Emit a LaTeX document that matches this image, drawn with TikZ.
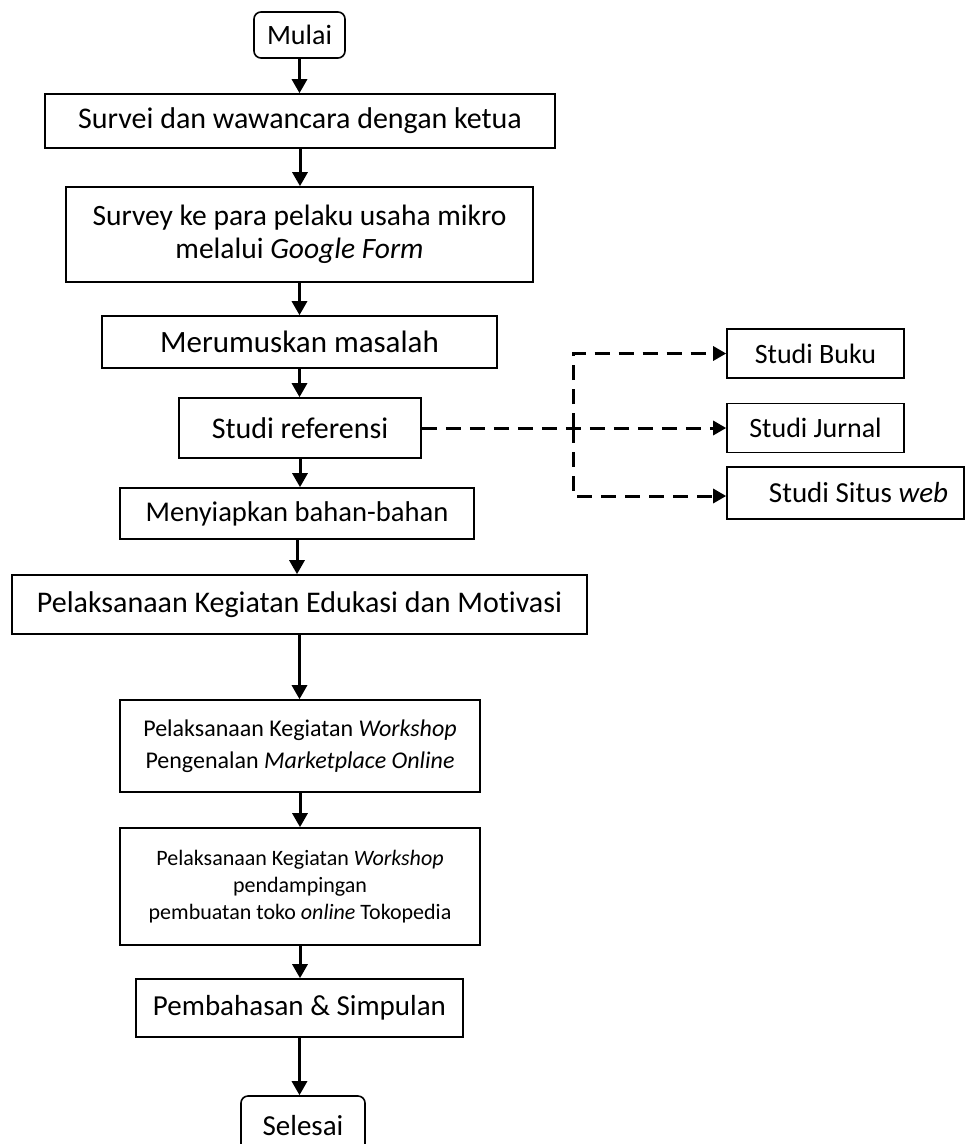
\documentclass[tikz,border=0pt]{standalone}
\usepackage{fontspec}
\setmainfont{Carlito}[Ligatures=NoCommon]
\usetikzlibrary{arrows.meta}
\begin{document}
\begin{tikzpicture}[x=1pt,y=-1pt,
  box/.style={draw, line width=1.6pt, inner sep=0pt, align=center, font=\fontsize{30}{33}\selectfont},
  rbox/.style={box, rounded corners=7pt},
  arr/.style={line width=3pt, -{Triangle[length=14pt,width=15pt]}},
  dsh/.style={line width=3pt, dash pattern=on 15pt off 9pt},
  darr/.style={dsh, -{Triangle[length=13pt,width=14pt]}}]
\useasboundingbox (0,0) rectangle (966,1144);
\node[rbox, minimum width=91pt, minimum height=46pt, font=\fontsize{28}{31}\selectfont] (mulai) at (299.5,35) {Mulai};
\node[box, minimum width=510pt, minimum height=54pt] (s1) at (300,121) {Survei dan wawancara dengan ketua};
\node[box, minimum width=467pt, minimum height=95pt, font=\fontsize{29.5}{33}\selectfont] (s2) at (299.5,234.5) {Survey ke para pelaku usaha mikro\\melalui \textit{Google Form}};
\node[box, minimum width=395pt, minimum height=52pt, font=\fontsize{31}{34}\selectfont] (s3) at (299.5,342) {Merumuskan masalah};
\node[box, minimum width=242pt, minimum height=60pt] (s4) at (300,428) {Studi referensi};
\node[box, minimum width=354pt, minimum height=51pt, font=\fontsize{28.6}{32}\selectfont] (s5) at (297,513.5) {Menyiapkan bahan-bahan};
\node[box, minimum width=575pt, minimum height=59pt] (s6) at (299.5,604.5) {Pelaksanaan Kegiatan Edukasi dan Motivasi};
\node[box, minimum width=360pt, minimum height=92pt, font=\fontsize{24}{32}\selectfont] (s7) at (300,746) {Pelaksanaan Kegiatan \textit{Workshop}\\Pengenalan \textit{Marketplace Online}};
\node[box, minimum width=360pt, minimum height=117pt, font=\fontsize{22}{27}\selectfont] (s8) at (300,886.5) {Pelaksanaan Kegiatan \textit{Workshop}\\pendampingan\\pembuatan toko \textit{online} Tokopedia};
\node[box, minimum width=327pt, minimum height=58pt, font=\fontsize{29}{32}\selectfont] (s9) at (299.5,1008) {Pembahasan \& Simpulan};
\node[rbox, minimum width=124pt, minimum height=60pt, font=\fontsize{29}{32}\selectfont] (selesai) at (303,1126) {Selesai};
\node[box, minimum width=177pt, minimum height=49pt, font=\fontsize{28}{31}\selectfont] (buku) at (815.5,353.5) {Studi Buku};
\node[box, minimum width=177pt, minimum height=49pt, font=\fontsize{28}{31}\selectfont] (jurnal) at (815.5,428) {Studi Jurnal};
\node[box, minimum width=237pt, minimum height=52pt, font=\fontsize{29}{32}\selectfont] (situs) at (845.5,493) {\hspace*{26pt}Studi Situs \textit{web}};
\coordinate (br) at (573,428);
\draw[arr] (mulai.south) -- (mulai.south |- s1.north);
\draw[arr] (s1.south) -- (s1.south |- s2.north);
\draw[arr] (s2.south) -- (s2.south |- s3.north);
\draw[arr] (s3.south) -- (s3.south |- s4.north);
\draw[arr] (s4.south) -- (s4.south |- s5.north);
\draw[arr] (s5.south) -- (s5.south |- s6.north);
\draw[arr] (s6.south) -- (s6.south |- s7.north);
\draw[arr] (s7.south) -- (s7.south |- s8.north);
\draw[arr] (s8.south) -- (s8.south |- s9.north);
\draw[arr] (s9.south) -- (s9.south |- selesai.north);
\draw[darr] (s4.east) -- (jurnal.west);
\draw[darr] (br) |- (buku.west);
\draw[darr] (br) |- ([yshift=-3pt]situs.west);
\end{tikzpicture}
\end{document}
